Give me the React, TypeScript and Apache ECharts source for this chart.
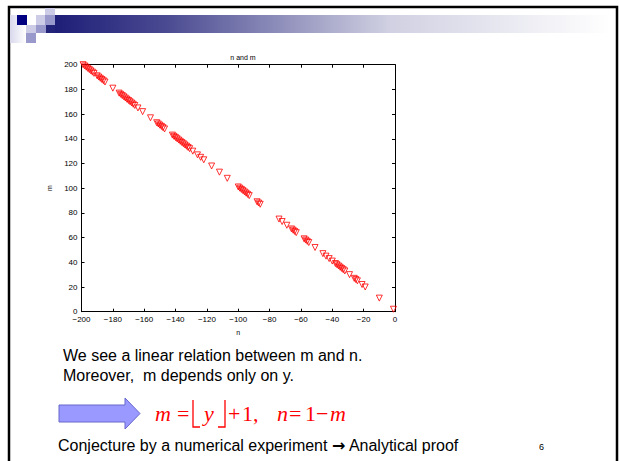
import React, { useEffect, useRef } from "react";
import * as echarts from "echarts";

const chartTitle = "n and m";
const xName = "n";
const yName = "m";
const nValues = [
  -199, -198, -197, -196, -195, -194, -193, -192,
  -190, -189, -188, -187, -186, -185,
  -180,
  -176, -175, -174, -173, -172, -171, -170, -169, -168, -167, -166, -164,
  -161, -156,
  -152, -151, -150, -149, -148, -147,
  -142, -141, -140, -139, -138, -137, -136, -135, -134, -133, -132, -131,
  -129, -126, -124, -122, -117, -112, -107,
  -100, -99, -98, -97, -96, -95, -94, -93,
  -88, -87, -86,
  -74, -72, -69,
  -66, -65, -64, -63,
  -58, -57, -56, -55,
  -51, -46, -44, -42, -40,
  -38, -37, -36, -35, -34, -33, -32,
  -29, -26, -25, -24, -21, -19, -10, -1,
];
const mValues = [
  200, 199, 198, 197, 196, 195, 194, 193,
  191, 190, 189, 188, 187, 186,
  181,
  177, 176, 175, 174, 173, 172, 171, 170, 169, 168, 167, 165,
  162, 157,
  153, 152, 151, 150, 149, 148,
  143, 142, 141, 140, 139, 138, 137, 136, 135, 134, 133, 132,
  130, 127, 125, 123, 118, 113, 108,
  101, 100, 99, 98, 97, 96, 95, 94,
  89, 88, 87,
  75, 73, 70,
  67, 66, 65, 64,
  59, 58, 57, 56,
  52, 47, 45, 43, 41,
  39, 38, 37, 36, 35, 34, 33,
  30, 27, 26, 25, 22, 20, 11, 2,
];
const textLine1 = "We see a linear relation between m and n.";
const textLine2 = "Moreover,  m depends only on y.";
const textLine3a = "Conjecture by a numerical experiment ";
const textArrow = "\u2192";
const textLine3b = " Analytical proof";
const pageNumber = "6";

export default function App() {
  const ref = useRef<HTMLDivElement>(null);
  useEffect(() => {
    if (!ref.current) return;
    const chart = echarts.init(ref.current, null, { renderer: "svg" });
    const data = nValues.map((n, i) => [n, mValues[i]]);
    const fmt = (v: number) => String(v).replace("-", "\u2212");
    const lav1 = "#CCCCE6";
    const lav2 = "#9999CC";
    const bodyFont = "Liberation Sans, Arial, sans-serif";
    const mathFont = "Liberation Serif, Times New Roman, serif";
    const red = "#FF0000";
    const bodyPx = 16;
    const canvas = document.createElement("canvas");
    const ctx = canvas.getContext("2d")!;
    ctx.font = `${bodyPx}px ${bodyFont}`;
    const wA = ctx.measureText(textLine3a).width;
    ctx.font = `bold ${bodyPx}px DejaVu Sans`;
    const wArrow = ctx.measureText(textArrow).width;
    const fy = 413;
    const mathText = (x: number, text: string, italic: boolean) => ({
      type: "text", x, y: fy,
      style: { text, font: `${italic ? "italic " : ""}22px ${mathFont}`, fill: red, verticalAlign: "middle" },
    });
    chart.setOption({
      animation: false,
      backgroundColor: "#ffffff",
      title: {
        text: chartTitle,
        left: 238,
        top: 49,
        textAlign: "center",
        textStyle: { fontSize: 7, fontWeight: "normal", color: "#000", fontFamily: bodyFont },
      },
      grid: { left: 81.5, top: 64.7, width: 313.5, height: 247, containLabel: false },
      xAxis: [
        {
          type: "value", min: -200, max: 0, interval: 20,
          name: xName, nameLocation: "middle", nameGap: 17,
          nameTextStyle: { fontSize: 7, color: "#000", fontFamily: bodyFont },
          axisLine: { show: true, onZero: false, lineStyle: { color: "#000", width: 1 } },
          axisTick: { show: true, inside: true, length: 3, lineStyle: { color: "#000" } },
          axisLabel: { fontSize: 8, color: "#000", margin: 4, formatter: fmt, fontFamily: bodyFont },
          splitLine: { show: false },
        },
        {
          type: "value", min: -200, max: 0, interval: 20, position: "top",
          axisLine: { show: true, onZero: false, lineStyle: { color: "#000", width: 1 } },
          axisTick: { show: true, inside: true, length: 3, lineStyle: { color: "#000" } },
          axisLabel: { show: false },
          splitLine: { show: false },
        },
      ],
      yAxis: [
        {
          type: "value", min: 0, max: 200, interval: 20,
          name: yName, nameLocation: "middle", nameGap: 10,
          nameTextStyle: { fontSize: 7, color: "#000", fontFamily: bodyFont },
          axisLine: { show: true, onZero: false, lineStyle: { color: "#000", width: 1 } },
          axisTick: { show: true, inside: true, length: 3, lineStyle: { color: "#000" } },
          axisLabel: { fontSize: 8, color: "#000", margin: 4, fontFamily: bodyFont },
          splitLine: { show: false },
        },
        {
          type: "value", min: 0, max: 200, interval: 20, position: "right",
          axisLine: { show: true, onZero: false, lineStyle: { color: "#000", width: 1 } },
          axisTick: { show: true, inside: true, length: 3, lineStyle: { color: "#000" } },
          axisLabel: { show: false },
          splitLine: { show: false },
        },
      ],
      series: [
        {
          type: "scatter",
          data,
          symbol: "triangle",
          symbolRotate: 180,
          symbolSize: 6,
          itemStyle: { color: "rgba(255,255,255,0)", borderColor: red, borderWidth: 1 },
        },
      ],
      graphic: [
        // slide frame
        { type: "rect", shape: { x: 9, y: 7, width: 608, height: 470 }, style: { fill: "none", stroke: "#000", lineWidth: 2.5 }, silent: true },
        // header decor
        { type: "rect", shape: { x: 10, y: 15, width: 16, height: 28 },
          style: { fill: new echarts.graphic.LinearGradient(0, 0, 1, 0, [{ offset: 0, color: "#D8D8EC" }, { offset: 1, color: "#ffffff" }]) } },
        { type: "rect", shape: { x: 45, y: 8, width: 10, height: 7 }, style: { fill: lav1 } },
        { type: "rect", shape: { x: 17, y: 15, width: 10, height: 10 }, style: { fill: "#000080" } },
        { type: "rect", shape: { x: 36, y: 15, width: 9, height: 10 }, style: { fill: lav1 } },
        { type: "rect", shape: { x: 45, y: 15, width: 10, height: 10 }, style: { fill: lav2 } },
        { type: "rect", shape: { x: 26, y: 25, width: 10, height: 8 }, style: { fill: lav1 } },
        { type: "rect", shape: { x: 36, y: 25, width: 10, height: 8 }, style: { fill: lav2 } },
        { type: "rect", shape: { x: 26, y: 33, width: 10, height: 10 }, style: { fill: lav2 } },
        { type: "rect", shape: { x: 46, y: 25, width: 9, height: 8 }, style: { fill: "#23237A" } },
        { type: "rect", shape: { x: 55, y: 15, width: 556, height: 18 },
          style: { fill: new echarts.graphic.LinearGradient(0, 0, 1, 0, [
            { offset: 0, color: "#1E1E78" },
            { offset: 0.2, color: "#4A4A92" },
            { offset: 0.6, color: "#D0D0E2" },
            { offset: 1, color: "#FFFFFF" },
          ]) } },
        // body text
        { type: "text", x: 63, y: 347, style: { text: textLine1, font: `${bodyPx}px ${bodyFont}`, fill: "#000" } },
        { type: "text", x: 63, y: 367, style: { text: textLine2, font: `${bodyPx}px ${bodyFont}`, fill: "#000" } },
        // arrow
        { type: "polygon", shape: { points: [[59, 405], [125, 405], [125, 398], [140, 413.5], [125, 429], [125, 422], [59, 422]] },
          style: { fill: "#9999FF", stroke: "#6666CC", lineWidth: 1 } },
        // formula
        mathText(155, "m", true),
        mathText(177, "=", false),
        { type: "polyline", shape: { points: [[193, 400], [193, 427], [200, 427]] }, style: { stroke: red, lineWidth: 1.3, fill: "none" } },
        mathText(204, "y", true),
        { type: "polyline", shape: { points: [[218, 427], [225, 427], [225, 400]] }, style: { stroke: red, lineWidth: 1.3, fill: "none" } },
        mathText(228, "+", false),
        mathText(242, "1,", false),
        mathText(277, "n", true),
        mathText(289, "=", false),
        mathText(305, "1", false),
        mathText(316, "\u2212", false),
        mathText(330, "m", true),
        // last line
        { type: "text", x: 58, y: 437, style: { text: textLine3a, font: `${bodyPx}px ${bodyFont}`, fill: "#000" } },
        { type: "text", x: 58 + wA, y: 437, style: { text: textArrow, font: `bold ${bodyPx}px DejaVu Sans`, fill: "#000" } },
        { type: "text", x: 58 + wA + wArrow, y: 437, style: { text: textLine3b, font: `${bodyPx}px ${bodyFont}`, fill: "#000" } },
        { type: "text", x: 539, y: 442, style: { text: pageNumber, font: `9px ${bodyFont}`, fill: "#000" } },
      ],
    });
    return () => chart.dispose();
  }, []);
  return (
    <div
      ref={ref}
      style={{ position: "fixed", left: 0, top: 0, width: 619, height: 461, background: "#fff" }}
    />
  );
}
